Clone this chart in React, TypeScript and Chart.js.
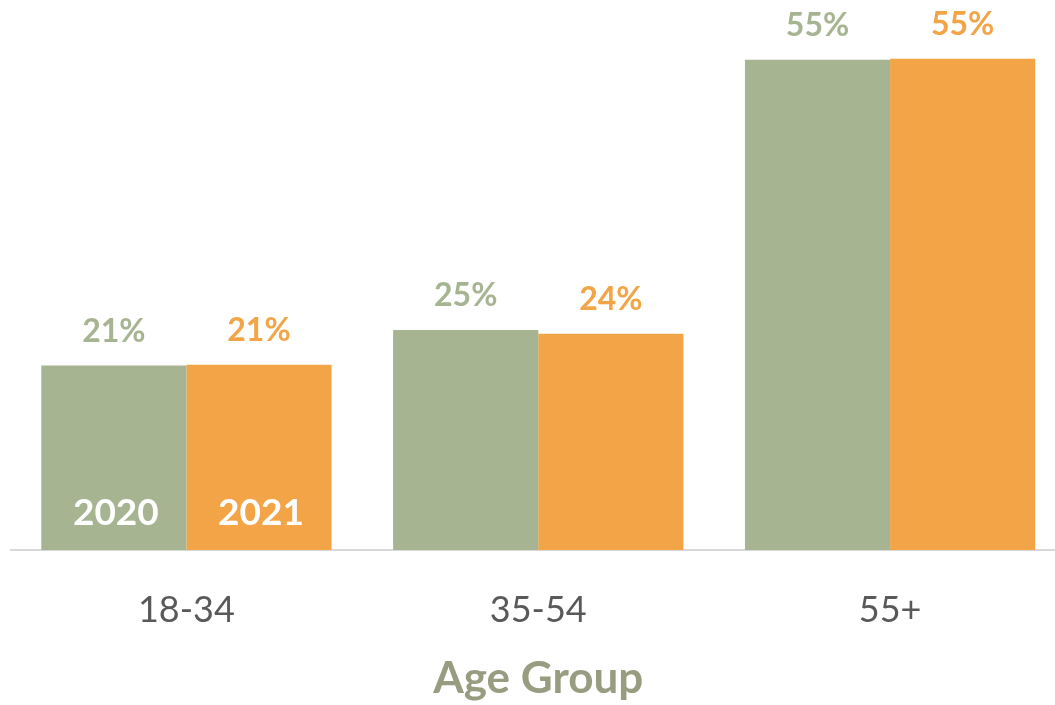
import React, { useEffect, useRef } from "react";
import { Chart, registerables } from "chart.js";

Chart.register(...registerables);

const categories = ["18-34", "35-54", "55+"];
const seriesNames = ["2020", "2021"];
const values2020 = [20.8, 24.8, 55.3];
const values2021 = [20.9, 24.4, 55.4];
const axisTitle = "Age Group";

const GREEN = "#a7b491";
const ORANGE = "#f2a446";
const FONT = "Lato, 'Open Sans', sans-serif";

const labelPlugin = {
  id: "barLabels",
  afterDatasetsDraw(chart: any) {
    const ctx = chart.ctx;
    ctx.save();
    chart.data.datasets.forEach((ds: any, di: number) => {
      const meta = chart.getDatasetMeta(di);
      meta.data.forEach((bar: any, i: number) => {
        const v = ds.data[i];
        ctx.font = `bold 32px ${FONT}`;
        ctx.fillStyle = ds.backgroundColor;
        ctx.textAlign = "center";
        ctx.textBaseline = "alphabetic";
        ctx.fillText(`${Math.round(v)}%`, bar.x, bar.y - 24);
        if (i === 0) {
          ctx.font = `bold 37px ${FONT}`;
          ctx.fillStyle = "#ffffff";
          ctx.fillText(ds.label, bar.x + 2, bar.base - 25);
        }
      });
    });
    ctx.restore();
  },
};

export default function App() {
  const ref = useRef<HTMLCanvasElement>(null);
  useEffect(() => {
    if (!ref.current) return;
    const chart = new Chart(ref.current, {
      type: "bar",
      data: {
        labels: categories,
        datasets: [
          { label: seriesNames[0], data: values2020, backgroundColor: GREEN, categoryPercentage: 0.825, barPercentage: 1 },
          { label: seriesNames[1], data: values2021, backgroundColor: ORANGE, categoryPercentage: 0.825, barPercentage: 1 },
        ],
      },
      options: {
        responsive: false,
        animation: false,
        devicePixelRatio: 1,
        layout: { padding: { left: 10.5, right: 0, top: 18, bottom: 0 } },
        plugins: { legend: { display: false }, tooltip: { enabled: false } },
        scales: {
          y: { display: false, min: 0, max: 60 },
          x: {
            grid: { display: false },
            border: { display: true, color: "#d9d9d9", width: 2 },
            ticks: { color: "#595959", font: { family: FONT, size: 36 }, padding: 31 },
            title: {
              display: true,
              text: axisTitle,
              color: "#989c80",
              font: { family: FONT, size: 44, weight: "bold" },
              padding: { top: 0, bottom: 0 },
            },
            afterFit: (axis: any) => {
              axis.height = 155;
            },
          },
        },
      },
      plugins: [labelPlugin],
    } as any);
    return () => chart.destroy();
  }, []);
  return (
    <div style={{ position: "fixed", left: 0, top: 0, width: 1055, height: 705, overflow: "hidden", background: "#fff" }}>
      <canvas ref={ref} width={1066} height={705} />
    </div>
  );
}
